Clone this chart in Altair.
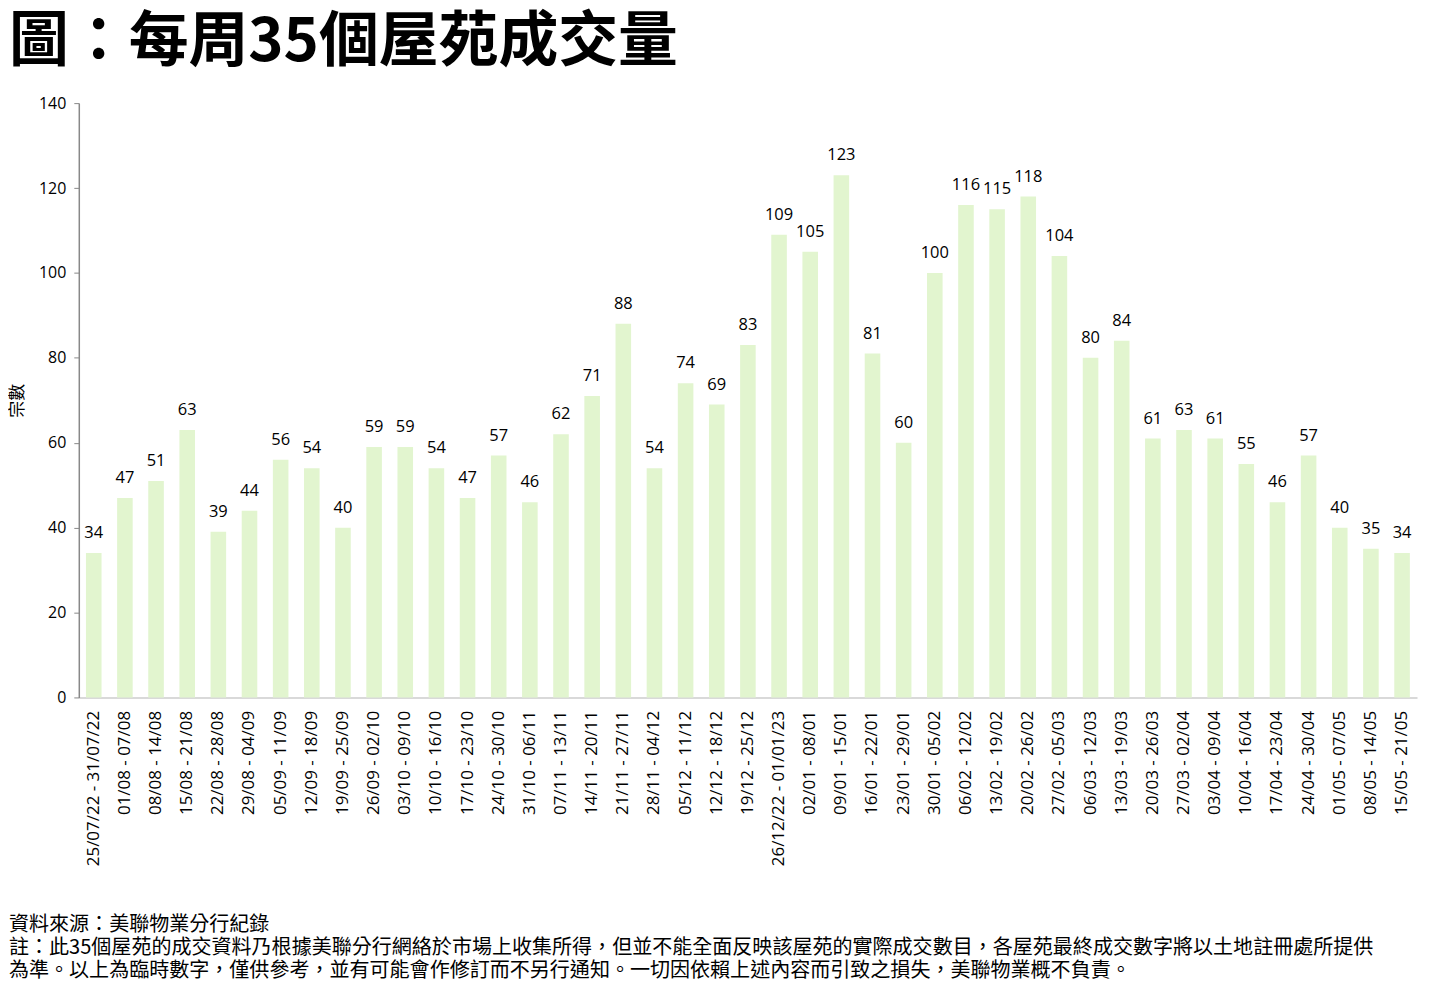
import altair as alt
import pandas as pd

weeks = [
    "25/07/22 - 31/07/22", "01/08 - 07/08", "08/08 - 14/08", "15/08 - 21/08",
    "22/08 - 28/08", "29/08 - 04/09", "05/09 - 11/09", "12/09 - 18/09",
    "19/09 - 25/09", "26/09 - 02/10", "03/10 - 09/10", "10/10 - 16/10",
    "17/10 - 23/10", "24/10 - 30/10", "31/10 - 06/11", "07/11 - 13/11",
    "14/11 - 20/11", "21/11 - 27/11", "28/11 - 04/12", "05/12 - 11/12",
    "12/12 - 18/12", "19/12 - 25/12", "26/12/22 - 01/01/23", "02/01 - 08/01",
    "09/01 - 15/01", "16/01 - 22/01", "23/01 - 29/01", "30/01 - 05/02",
    "06/02 - 12/02", "13/02 - 19/02", "20/02 - 26/02", "27/02 - 05/03",
    "06/03 - 12/03", "13/03 - 19/03", "20/03 - 26/03", "27/03 - 02/04",
    "03/04 - 09/04", "10/04 - 16/04", "17/04 - 23/04", "24/04 - 30/04",
    "01/05 - 07/05", "08/05 - 14/05", "15/05 - 21/05",
]
counts = [
    34, 47, 51, 63, 39, 44, 56, 54, 40, 59, 59, 54, 47, 57, 46, 62, 71, 88,
    54, 74, 69, 83, 109, 105, 123, 81, 60, 100, 116, 115, 118, 104, 80, 84,
    61, 63, 61, 55, 46, 57, 40, 35, 34,
]
y_ticks = [0, 20, 40, 60, 80, 100, 120, 140]

title_text = "圖：每周35個屋苑成交量"
y_title = "宗數"
notes = [
    "資料來源：美聯物業分行紀錄",
    "註：此35個屋苑的成交資料乃根據美聯分行網絡於市場上收集所得，但並不能全面反映該屋苑的實際成交數目，各屋苑最終成交數字將以土地註冊處所提供",
    "為準。以上為臨時數字，僅供參考，並有可能會作修訂而不另行通知。一切因依賴上述內容而引致之損失，美聯物業概不負責。",
]

df = pd.DataFrame({"week": weeks, "count": counts})

CJK = "Noto Sans CJK TC"
LAT = "Open Sans"

x_enc = alt.X(
    "week:N",
    sort=weeks,
    scale=alt.Scale(paddingInner=0.5, paddingOuter=0.23),
    axis=alt.Axis(
        title=None, labelAngle=270, labelFont=LAT, labelFontSize=17,
        labelColor="#000000", domainColor="#d9d9d9", domainWidth=2,
        ticks=False, labelPadding=13, labelOverlap=False,
    ),
)
y_enc = alt.Y(
    "count:Q",
    scale=alt.Scale(domain=[0, 140], nice=False),
    axis=alt.Axis(
        values=y_ticks, title=y_title, titleFont=CJK, titleFontSize=17,
        titleFontWeight="normal", titleColor="#000000", titlePadding=12,
        grid=False, domainColor="#888888", domainWidth=1.5,
        tickColor="#888888", tickSize=5, labelFont=LAT, labelFontSize=16,
        labelColor="#000000", labelPadding=8,
    ),
)

base = alt.Chart(df)
bars = base.mark_bar(color="#e2f5cf").encode(x=x_enc, y=y_enc)
labels = base.mark_text(
    dy=-15, baseline="alphabetic", font=LAT, fontSize=16.5, color="#000000"
).encode(x=x_enc, y=y_enc, text="count:Q")

title_mark = alt.Chart(pd.DataFrame({"t": [title_text]})).mark_text(
    align="left", baseline="middle", font=CJK, fontSize=60,
    fontWeight="bold", color="#000000",
).encode(x=alt.value(-70), y=alt.value(-60), text="t:N")

notes_mark = alt.Chart(pd.DataFrame({"t": [0]})).mark_text(
    align="left", baseline="middle", font=CJK, fontSize=20.1,
    lineHeight=23.3, color="#000000", text=notes,
).encode(x=alt.value(-70), y=alt.value(824))

chart = alt.layer(bars, labels, title_mark, notes_mark).properties(
    width=1342, height=596,
    background="white",
    autosize=alt.AutoSizeParams(type="none"),
    padding={"left": 71, "top": 94, "right": 4, "bottom": 288},
).configure_view(stroke=None)

chart.save("out.html", embed_options={"renderer": "svg", "actions": False})
